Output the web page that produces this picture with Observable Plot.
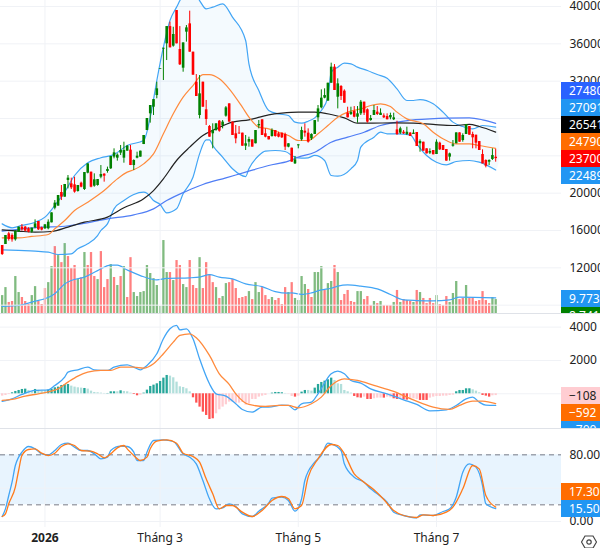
<!DOCTYPE html>
<html><head><meta charset="utf-8">
<script src="https://cdn.jsdelivr.net/npm/d3@7"></script>
<script src="https://cdn.jsdelivr.net/npm/@observablehq/plot@0.6"></script>
<style>
html,body{margin:0;padding:0;background:#fff}
#chart{position:relative;width:600px;height:548px;overflow:hidden;font-family:"Noto Sans",sans-serif}
#chart svg{position:absolute;left:0;background:transparent}
.sep{position:absolute;left:0;width:600px;height:1px;background:#dfe2e8}
.stack{position:absolute;left:561px;width:39px;overflow:hidden}
.stack div{position:absolute;left:0;width:39px;height:17px;line-height:17px;padding-left:8px;box-sizing:border-box;font-size:12px;white-space:nowrap;overflow:hidden}
</style></head><body><div id="chart"></div>
<script>
// ---- candles: high, top of body, bottom of body, low, direction ----
const candleHigh=[14390,15460,15820,15640,15980,16360,16640,16430,16290,16250,17140,16960,16360,16610,17140,17890,19210,19750,20820,20930,21890,21610,21710,20820,21180,22210,23140,22250,22070,21460,22960,22070,22790,23930,24750,24210,25110,25460,25110,25110,23570,24390,24500,26180,28000,29390,30030,31890,33350,35530,37850,38320,37780,39570,37850,36100,37960,39500,35105,32710,32605,31890,29930,27250,27430,27430,27780,27780,29280,29570,27610,27250,27140,26430,26180,26000,25710,26710,27780,27860,26890,26070,26890,26710,26530,26430,26430,25290,24820,23930,25180,27070,27430,26890,26360,27780,29390,31070,31180,31780,33930,33780,32250,31530,31070,29210,29210,29280,29280,29930,29750,29030,28320,29390,29280,29030,28500,28500,28570,28570,27710,27070,26710,27070,26500,26780,26500,25710,25460,24750,24750,24570,25710,25460,25110,24680,24290,25640,26460,26460,26360,27360,27140,26530,26210,25530,24640,23570,23570,24750,24680];
const candleTop=[14390,15460,15640,15460,15890,16360,16360,16360,16180,16250,16710,16960,16290,16610,16890,17890,18930,19750,20070,20930,21610,21000,20890,20820,21070,22210,23140,22250,21430,21460,22000,22040,22540,23930,24320,24070,24570,24570,25030,24610,23500,23960,24500,26180,28000,29390,30030,31180,33350,35530,37850,37850,37000,39570,35390,36100,37710,38140,35105,31890,30640,31890,28930,27140,26710,27430,27710,27610,29140,29570,27610,26360,26430,26430,25290,25750,25710,26710,27360,27860,26360,26070,26710,26710,26360,26430,26290,25290,24820,23570,25180,26710,26640,26430,26290,27780,29030,30180,30460,31780,33500,33500,31710,31430,30930,28570,28640,28750,28500,29750,29750,28930,28000,28860,28680,28570,28280,28210,28320,28070,26780,26890,26530,26530,26430,26430,26500,25530,25460,24750,24460,24570,25460,25360,25110,24680,24210,25180,26460,26460,26180,27360,27140,26290,26210,25530,24140,23500,23500,24030,23850];
const candleBottom=[13430,14500,15040,15000,15000,15820,16070,15930,15820,15820,16290,16070,16040,16180,16180,16820,18390,18610,19570,19570,21360,20570,20110,20180,20640,20390,22140,20640,20750,20820,21710,21820,22320,22610,23860,23750,24290,23750,24500,22960,22960,23750,23860,25210,26710,28500,29210,30460,33280,35430,36000,35570,35750,36000,33750,33390,37250,35105,32640,30355,28320,29210,27890,26000,26360,26710,26640,27250,28250,27610,26180,25820,26360,25030,25030,25460,24930,25290,27210,26180,26000,25710,26070,26070,26000,25930,24930,24930,23320,23140,25070,25710,26430,25460,25820,26290,28070,29140,30180,29860,31780,31000,30280,30360,29640,28070,28430,28140,28140,28500,28570,27610,27780,28320,28430,28320,28070,27860,28070,27860,26290,26430,26360,26290,26070,26290,25000,25290,24500,24210,24290,24110,24140,24640,24570,23430,23860,25030,25290,25460,25640,26290,26210,25930,25360,24570,23140,22890,23320,23610,23700];
const candleLow=[13320,14500,14860,14750,14860,15820,15930,15860,15750,15710,16180,16000,15960,16110,16070,16820,18210,18610,19210,19570,20460,20390,20000,20110,20570,20290,22070,20570,20640,20750,21540,21180,22140,22540,23680,23430,24040,23210,24500,22960,22430,23680,23860,25210,26710,27500,28320,30110,33280,32070,34210,35570,35640,36000,33680,32960,36180,35105,32640,30355,27960,29210,27250,26000,24750,26640,26530,26890,28140,27610,26180,25290,26290,25030,24570,24930,24930,25290,26890,26180,25930,25710,26000,26000,25930,25860,24570,24860,23320,23070,24750,25570,26000,25360,25640,26290,27610,29030,30110,29860,31780,31000,29030,29930,29640,28070,28320,28070,27500,28320,28320,27500,27710,28320,28320,28320,28000,27860,27860,27780,26180,26290,26290,26180,26070,26290,25000,24390,24500,24210,24140,24110,24140,24570,24570,23430,23430,24930,25290,25460,25460,26290,26210,24750,24750,24570,23140,22710,22960,23500,23320];
const candleDir="rgrrggrrrg"+"grrgggggrg"+"grrgrggrgg"+"grgggggggr"+"gggggggggg"+"grgrrggrrr"+"grrrggrggr"+"rrrrggrggr"+"rrgrrrrgrg"+"ggrrgggggg"+"grgrrrgrgg"+"rrggrgrrgg"+"rgrgrgrgrr"+"grgrrrgggr"+"ggrrrrrrggr";

// ---- Bollinger bands and moving averages, price read at bar numbers ----
const upperBars=[0,3,6,10,13,16,19,22,26,30,34,38,43,45,47,49,51,53,55,58,60,62,64,67,70,74,75,78,81,84,87,89,91,93,95,97,99,100,102,104,106,108,111,114,117,120,123,125,127,131,134,137,140,143,146,150];
const upperBand=[16710,16290,16540,16890,17430,18680,20110,21890,23250,23790,24140,25110,25640,28140,32070,35640,38500,39930,41180,41710,40640,39750,39930,40280,38860,36360,33860,31000,28860,28500,28320,27610,27500,27710,28070,28860,30280,32960,33500,33930,33860,33500,33140,32710,32320,31180,29930,29930,30030,29570,28680,27610,27140,26890,27250,27070];
const lowerBars=[0,5,10,14,17,21,23,26,29,30,32,34,37,40,43,44,46,48,50,53,55,58,60,62,63,64,67,70,74,75,78,80,83,86,89,91,93,95,98,100,102,106,108,109,113,115,117,120,124,126,129,132,135,138,142,145,150];
const lowerBand=[13930,13860,13790,13680,13430,13500,14040,14570,15460,16000,16710,18320,19210,19860,20110,20000,19210,18790,17890,18320,19930,21710,24210,25710,25710,25110,23860,22610,21780,22610,24040,24500,24570,24460,23860,23750,23790,24040,23500,21890,21820,22610,23500,24930,26000,26530,26360,26360,26250,25280,24030,23320,23030,23390,23500,23320,22489];
const midBars=[0,5,9,14,16,19,22,26,31,35,38,40,43,46,49,52,55,58,61,63,66,69,73,75,78,81,84,87,90,93,96,99,102,105,109,112,115,118,120,123,128,131,135,138,142,145,150];
const midBand=[15210,15210,15360,15570,16180,17070,18140,19030,20280,21530,22250,22500,23140,24210,26360,28500,30280,31530,32710,32710,32250,31180,29210,28140,27070,26890,26530,26180,25640,25640,26360,27250,28140,28680,29030,29390,29570,29280,28680,27960,27430,26530,25640,25280,25280,25110,24790];
const blackBars=[0,5,10,15,20,25,32,37,43,46,49,53,57,61,65,70,75,81,85,90,95,100,104,108,112,119,125,131,137,142,145,150];
const blackMA=[16070,15930,15820,15890,16360,16890,17430,18430,19390,20280,21530,23500,24930,26180,26890,27610,27860,28390,28570,28680,28680,28430,28070,27500,27500,27530,27500,27360,27250,27360,27140,26541];
const blueBars=[0,6,12,18,24,32,40,46,50,56,61,68,74,81,87,90,95,100,105,110,115,120,125,130,135,142,146,150];
const blueMA=[15930,16180,16360,16430,16710,17250,17680,18320,19210,20210,20930,21640,22250,22960,23430,23860,24390,25460,26000,26530,27250,27610,27860,27960,28030,28070,27860,27480];

// ---- volume (millions) ----
const volume=[11.2,16.2,6.9,7.5,23.1,13.1,10,7.5,5.6,11.2,16.8,7.5,5.6,15.6,19.3,29.3,41.8,36.2,31.8,43.7,35.6,28.1,30,21.2,22.3,38.1,30,38.1,23.1,21.2,38.7,16.2,21.2,30.6,22.5,17.5,23.1,29.3,10,34.9,13.1,10.6,13.1,13.7,30,25,21.8,17.5,4.4,45.6,25.6,25.6,20.6,33.1,30,18.1,16.2,33.1,17.5,15.6,34.9,15.6,31.8,24.3,19.3,16.2,9.4,10.6,18.7,19.3,21.2,15.6,9.4,10,10.6,13.7,8.7,19.3,13.1,16.2,11.2,8.7,10,8.1,9.4,5.6,16.2,13.1,19.3,9.4,8.1,23.1,18.1,15,10,25.6,25.6,29.3,14.4,18.7,20,30,25.6,8.1,11.9,14.4,7.5,6.9,13.7,13.7,8.7,10.6,5,7.5,6.2,7.5,5,5,5,6.9,14.4,6.9,8.7,8.1,7.5,6.9,14.4,13.1,9.4,6.2,9.4,6.2,11.2,5.6,5,10.6,6.9,12.5,20,8.7,9.4,17.5,9.4,9.4,7.5,8.1,13.7,8.1,6.2,10,8.7];
const volumeDir="ggrrggrrrg"+"grrrggrgrg"+"rrrgrgrrrg"+"rrrgrgrgrr"+"gggggggggg"+"grgrrggrrr"+"grrrrgrggr"+"rrrrrgrggr"+"rrgrrrrg"+"rggggrrgggrg"+"grgrrrrrgg"+"rrrgrgrrrg"+"rgrrrgrgrr"+"rrgrrrgggr"+"rgrrrrrrrgg";
const volumeMABars=[0,5,10,13,16,19,21,25,29,33,35,38,42,47,50,57,60,63,66,70,74,79,83,87,88,91,94,97,100,102,105,109,114,118,122,126,131,136,139,150];
const volumeMA=[4.4,5,7.7,9.2,12.3,18.5,20.6,22.7,26.8,30.2,30.2,27.2,23.7,21,22,22.3,22.7,24.3,22.7,21.6,18.5,16.8,13.7,12.7,12.9,11.9,12.9,14.8,15.8,17.1,17.9,17.1,15.4,11.9,8.5,8.1,7.9,8.5,10.2,9.773];

// ---- MACD ----
const histogram=[-140,-100,-40,60,140,200,260,280,200,140,260,220,180,180,220,280,360,400,500,540,560,460,400,360,340,320,280,160,80,60,40,20,20,120,120,120,180,140,120,40,-40,-120,-80,40,220,440,520,600,740,940,1100,1060,960,700,420,380,300,120,-240,-560,-800,-1100,-1300,-1540,-1500,-1200,-960,-800,-660,-500,-500,-560,-560,-520,-680,-600,-340,-340,-200,-140,-100,0,40,80,80,60,20,-20,-160,-200,-140,100,200,200,160,340,560,680,760,840,940,800,600,560,200,120,40,-160,-240,-260,-200,-340,-340,-300,-260,-260,-260,-200,-240,-300,-340,-300,-360,-380,-340,-300,-340,-400,-400,-400,-260,-200,-160,-160,-140,-140,-100,-80,120,200,200,300,300,240,160,60,-100,-140,-200,-120,-108];
const histKind="ppp"+"ttttt"+"ll"+"t"+"lll"+"ttttttt"+"llll"+"t"+"llllll"+"ttt"+"l"+"t"+"lll"+"rr"+"p"+"tttttttt"+"lllllll"+"rrrrrrr"+"ppppppppppppppppp"+"tttt"+"l"+"p"+"p"+"r"+"p"+"tt"+"ll"+"tttttt"+"llllll"+"rrr"+"p"+"rr"+"ppp"+"r"+"pp"+"rr"+"p"+"rr"+"ppp"+"rrr"+"pppppppp"+"ttttt"+"lll"+"rrr"+"pp";
const macdBars=[0,3,6,10,14,16,19,20,23,26,28,32,34,38,40,42,44,47,49,51,53,54,56,58,60,63,65,68,71,73,76,79,81,85,87,89,91,94,96,100,102,104,106,109,112,117,122,126,130,135,138,141,143,145,147,150];
const macdLine=[-460,-300,-40,200,240,500,1000,1300,1440,1600,1440,1400,1600,1740,1600,1440,1700,2400,3300,3900,4100,3840,3900,3300,2100,600,0,-140,-600,-940,-1100,-800,-800,-680,-700,-960,-600,-500,0,1200,1360,1200,800,640,300,0,-360,-640,-1020,-960,-700,-300,-200,-500,-680,-700];
const signalBars=[0,3,7,11,14,17,20,23,26,30,33,36,40,43,46,49,52,54,57,59,63,66,69,71,75,80,84,87,90,94,97,100,104,108,113,119,123,128,131,136,139,143,146,150];
const signalLine=[-400,-340,-140,0,120,300,700,1060,1300,1400,1400,1600,1600,1540,1800,2400,3100,3500,3600,3360,2300,1200,560,0,-640,-760,-700,-700,-840,-600,-200,500,900,800,500,140,-200,-600,-800,-940,-700,-440,-440,-592];

// ---- Stochastic ----
const kBars=[0,1,2,3,4,5,6,8,10,12,14,16,18,20,22,24,26,28,30,32,33,36,38,40,41,43,44,46,49,52,55,57,59,61,63,65,67,69,71,73,76,78,81,82,85,87,89,91,92,95,97,99,100,103,104,107,110,112,114,117,119,122,126,127,131,134,136,138,140,142,144,146,147,150];
const kLine=[6,15.2,31.2,47.2,67.2,77.2,83.2,90,87.2,81.2,80,85.2,92.4,94,89.2,85.2,85.2,81.2,75.2,77.2,85.2,90.4,90,83.2,73.2,73.2,83.2,97.2,98,96,81.2,77.2,69.2,49.2,27.2,15.2,16.4,21.2,18,9.2,6,12.4,22,28,29.2,25.2,12.4,27.2,49.2,71.2,79.2,94,93.2,85.2,69.2,53.2,47.2,39.2,33.2,23.2,11.2,7.2,4.4,8,7.2,12,15.2,29.2,59.2,69.2,65.2,43.2,21.2,15.5];
const dBars=[0,1,2,4,5,6,8,10,12,14,16,18,20,22,24,27,29,31,33,35,37,38,40,42,44,45,47,50,53,55,58,60,62,64,66,68,70,73,76,79,82,85,87,89,91,93,96,100,102,104,107,109,113,116,119,122,126,128,131,135,137,140,143,145,147,150];
const dLine=[6,9.2,21.2,41.2,61.2,79.2,86.4,87.2,82,79.2,82,90,93.2,91.2,85.2,84.4,81.2,76.4,81.2,88.4,91.2,87.2,79.2,73.2,77.2,87.2,96.4,98,94,82,78,71.2,51.2,33.2,15.2,19.2,19.2,11.2,6,13.2,25.2,30,27.2,15.2,19.2,53.2,75.2,92.4,91.2,81.2,57.2,50,38,26.4,13.2,7.2,4.8,8,7.2,11.2,17.2,39.2,67.2,63.2,31.2,17.3];

// ---- axis ticks and value tags ----
const timeTickBars=[13,48,90,132];
const timeTickLabels=["2026","Tháng 3","Tháng 5","Tháng 7"];
const priceTicks=[40000,36000,32000,28000,24000,20000,16000,12000];
const priceGrid=[...priceTicks,8000];
const macdTicks=[4000,2000,0];
const stochTicks=[80,20,0];
const stochGrid=[0,40];
const priceTags=["27480","27091","26541","24790","23700","22489"];
const priceTagColors=["#2962ff","#2196f3","#000000","#ff6d00","#ff0000","#2196f3"];
const volumeTags=["9.773M","8.741M"];
const volumeTagColors=["#2196f3","#008000"];
const macdTags=["−108","−592","−700"];
const macdTagColors=["#ffcdd2","#ff6d00","#2196f3"];
const stochTags=["17.30","15.50"];
const stochTagColors=["#ff6d00","#2196f3"];

// ---- styles ----
const FONT='"Noto Sans",sans-serif', FS="12px", INK="#222";
const GRID="#f0f2f6", BLUE="#42a5f5", ORANGE="#ff8a3c";
const xDomain=[-0.508,170];
const bars=d3.range(candleHigh.length);
const zip=(xs,ys)=>xs.map((x,i)=>({x,y:ys[i]}));

function pane(top,height,yDomain,marks,marginBottom=0){
  const svg=Plot.plot({width:600,height,marginLeft:0,marginRight:39,marginTop:0,marginBottom,
    style:{fontFamily:FONT,fontSize:FS,color:INK,background:"transparent"},
    x:{type:"linear",domain:xDomain,axis:null},
    y:{type:"linear",domain:yDomain,axis:null},marks});
  svg.style.top=top+"px";
  document.getElementById("chart").appendChild(svg);
}
const vGrid=()=>Plot.ruleX(timeTickBars,{stroke:GRID,strokeWidth:1});
const line=(xs,ys,stroke,w=1.4)=>Plot.line(zip(xs,ys),{x:"x",y:"y",stroke,strokeWidth:w,curve:"monotone-x",clip:true});
const yAxis=(ticks,fmt)=>Plot.axisY(ticks,{anchor:"right",tickSize:0,tickPadding:8,label:null,tickFormat:fmt,fill:INK});

// volume layer (same pane as prices, own scale)
pane(0,313,[0,195.6],[
  Plot.ruleX(bars,{x:d=>d,y1:0,y2:d=>volume[d],strokeWidth:2.3,stroke:d=>volumeDir[d]==="g"?"#80bb80":"#ff8080"}),
  line(volumeMABars,volumeMA,BLUE,1.2)
]);

// price layer
const bandOutline=[...zip(upperBars,upperBand),...zip(lowerBars,lowerBand).reverse()];
pane(0,313,[7106,40643],[
  Plot.ruleY(priceGrid,{stroke:GRID}),
  vGrid(),
  Plot.line(bandOutline,{x:"x",y:"y",fill:"#2196f3",fillOpacity:0.05,stroke:"none",curve:"catmull-rom",clip:true}),
  line(upperBars,upperBand,BLUE,1.2),
  line(lowerBars,lowerBand,BLUE,1.2),
  line(blueBars,blueMA,"#4f7df5",1.2),
  line(blackBars,blackMA,"#222",1.2),
  line(midBars,midBand,ORANGE,1.2),
  Plot.ruleX(bars,{x:d=>d,y1:d=>candleLow[d],y2:d=>candleHigh[d],strokeWidth:1,stroke:d=>candleDir[d]==="g"?"#008000":"#ff0000",clip:true}),
  Plot.ruleX(bars,{x:d=>d,y1:d=>candleBottom[d],y2:d=>candleTop[d],strokeWidth:2.6,stroke:d=>candleDir[d]==="g"?"#008000":"#ff0000",clip:true}),
  yAxis(priceTicks,d=>String(d))
]);

// MACD
const histColor={t:"#26a69a",l:"#b2dfdb",r:"#ff5252",p:"#ffcdd2"};
pane(314,114,[-2082,4757],[
  Plot.ruleY([4000,2000,0],{stroke:GRID}),
  vGrid(),
  Plot.ruleX(bars,{x:d=>d,y1:0,y2:d=>histogram[d],strokeWidth:2.3,stroke:d=>histColor[histKind[d]],clip:true}),
  line(macdBars,macdLine,BLUE,1.3),
  line(signalBars,signalLine,ORANGE,1.3),
  yAxis(macdTicks,d=>String(d))
]);

// Stochastic with the time axis under it
pane(429,119,[-7.2,110.4],[
  Plot.rect([0],{x1:xDomain[0],x2:xDomain[1],y1:20,y2:80,fill:"#2196f3",fillOpacity:0.1}),
  Plot.ruleY(stochGrid,{stroke:GRID}),
  vGrid(),
  Plot.ruleY([80,20],{stroke:"#787b86",strokeDasharray:"5,4",strokeWidth:1}),
  line(kBars,kLine,BLUE,1.3),
  line(dBars,dLine,"#ff7a1a",1.3),
  yAxis(stochTicks,d=>d.toFixed(2)),
  Plot.text(timeTickBars.slice(0,1),{x:d=>d,text:()=>timeTickLabels[0],frameAnchor:"bottom",dy:14,fontWeight:"bold",fill:INK}),
  Plot.text(timeTickBars.slice(1),{x:d=>d,text:d=>timeTickLabels[timeTickBars.indexOf(d)],frameAnchor:"bottom",dy:14,fill:INK})
],21);

// value tags on the right-hand scale, and pane separators
const chart=document.getElementById("chart");
function tags(top,height,first,texts,colors,darkFirst=false){
  const wrap=document.createElement("div");wrap.className="stack";
  wrap.style.top=top+"px";wrap.style.height=height+"px";
  texts.forEach((t,i)=>{
    const d=document.createElement("div");d.textContent=t;
    d.style.top=(first+i*17)+"px";d.style.background=colors[i];
    d.style.color=(darkFirst&&i===0)?"#222":"#fff";
    wrap.appendChild(d);
  });
  chart.appendChild(wrap);
}
tags(0,313,82,priceTags,priceTagColors);
tags(0,313,290,volumeTags,volumeTagColors);
tags(314,114,73.3,macdTags,macdTagColors,true);
tags(429,98,53.7,stochTags,stochTagColors);
[313,428].forEach(y=>{const s=document.createElement("div");s.className="sep";s.style.top=y+"px";chart.appendChild(s);});
const gear=document.createElementNS("http://www.w3.org/2000/svg","svg");
gear.setAttribute("width","16");gear.setAttribute("height","16");gear.setAttribute("viewBox","0 0 16 16");
gear.style.left="581px";gear.style.top="534px";
gear.innerHTML='<polygon points="4,2 12,2 15.5,8 12,14 4,14 0.5,8" fill="none" stroke="#444" stroke-width="1.2"/><circle cx="8" cy="8" r="2.2" fill="none" stroke="#444" stroke-width="1.2"/>';
chart.appendChild(gear);
</script></body></html>
